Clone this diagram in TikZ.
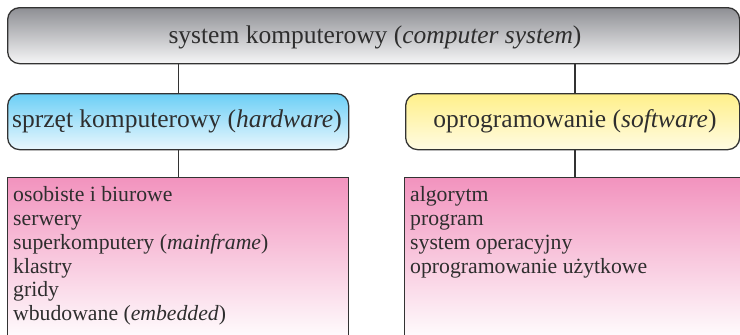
\documentclass[tikz,border=0pt]{standalone}
\usepackage{fontspec}
\setmainfont{Liberation Serif}
\definecolor{txt}{HTML}{2E2E2E}
\definecolor{edge}{HTML}{333333}
\definecolor{graytop}{HTML}{8E8F94}
\definecolor{graybot}{HTML}{F6F6F7}
\definecolor{bluetop}{HTML}{6CCFF6}
\definecolor{bluebot}{HTML}{EAF7FD}
\definecolor{yeltop}{HTML}{FFF08A}
\definecolor{yelbot}{HTML}{FFFBE3}
\definecolor{pinktop}{HTML}{F293BE}
\definecolor{pinkbot}{HTML}{FFFFFF}
\tikzset{
  rbox/.style={draw=edge, line width=1.3bp, rounded corners=12bp, inner sep=0pt},
  sqbox/.style={draw=edge, line width=1.3bp, inner sep=0pt, anchor=north west},
  head/.style={text=txt, font=\fontsize{25.6}{30}\selectfont, inner sep=0pt},
  listtext/.style={text=txt, font=\fontsize{21.8}{24}\selectfont, align=left, inner sep=0pt, anchor=north west},
  link/.style={draw=edge, line width=1.3bp}
}
\begin{document}
\begin{tikzpicture}[x=1bp,y=-1bp]
\useasboundingbox (0,0) rectangle (740,334);
\clip (0,0) rectangle (740,334);
% top box
\node[rbox, top color=graytop, bottom color=graybot, minimum width=732bp, minimum height=56bp, anchor=north west] (sys) at (7,7) {};
\node[head, anchor=base] (syst) at (375,43) {system komputerowy (\textit{computer system})};
% hardware
\node[rbox, top color=bluetop, bottom color=bluebot, minimum width=341bp, minimum height=56bp, anchor=north west] (hw) at (7,93) {};
\node[head, anchor=base] (hwt) at (177,127) {sprzęt komputerowy (\textit{hardware})};
% software
\node[rbox, top color=yeltop, bottom color=yelbot, minimum width=334bp, minimum height=56bp, anchor=north west] (sw) at (405,93) {};
\node[head, anchor=base] (swt) at (575,127) {oprogramowanie (\textit{software})};
% lists
\node[sqbox, top color=pinktop, bottom color=pinkbot, minimum width=341bp, minimum height=165bp] (hwl) at (7,177) {};
\node[sqbox, top color=pinktop, bottom color=pinkbot, minimum width=360bp, minimum height=165bp] (swl) at (404,177) {};
\node[listtext] (hwlt) at (13,186) {osobiste i biurowe\\serwery\\superkomputery (\textit{mainframe})\\klastry\\gridy\\wbudowane (\textit{embedded})};
\node[listtext] (swlt) at (410,186) {algorytm\\program\\system operacyjny\\oprogramowanie użytkowe};
% connectors
\coordinate (c2) at (575,63);
\draw[link] (sys.south -| hw.north) -- (hw.north);
\draw[link] (sys.south -| c2) -- (sw.north -| c2);
\draw[link] (hw.south) -- (hwl.north -| hw.south);
\draw[link] (sw.south -| c2) -- (swl.north -| c2);
\end{tikzpicture}
\end{document}
